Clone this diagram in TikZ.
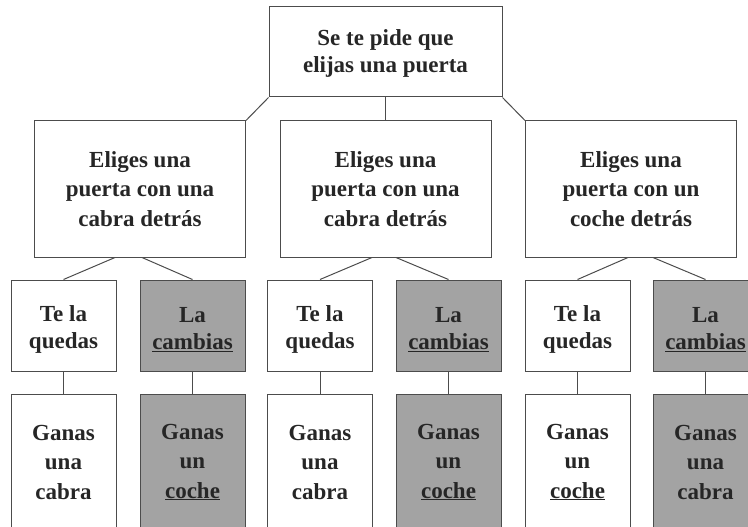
\documentclass[tikz,border=0pt]{standalone}
\usepackage{fontspec}
\setmainfont{Liberation Serif}
\usepackage{xcolor}
\usetikzlibrary{positioning}

\begin{document}
\begin{tikzpicture}[
        x=1pt, y=-1pt,
        every node/.style={font=\bfseries\fontsize{23}{29.5}\selectfont, text=black!85},
        box/.style={rectangle, draw=black!70, line width=1pt, align=center, inner sep=0pt},
        drop/.style={execute at begin node={\rule{0pt}{#1}}},
        ask/.style={box, minimum width=233pt, minimum height=90pt, drop=46pt,
            font=\bfseries\fontsize{23}{27}\selectfont},
        door/.style={box, minimum width=211pt, minimum height=136pt},
        act/.style={box, minimum width=105pt, minimum height=91pt, drop=51pt,
            font=\bfseries\fontsize{23}{27}\selectfont},
        res/.style={box, minimum width=105pt, minimum height=136pt},
        swap/.style={fill=black!36},
        link/.style={draw=black!70, line width=1pt}
    ]
        \clip (0,0) rectangle (748,527);

        \node[ask] (ask) at (385.5,52) {Se te pide que \\ elijas una puerta};

        \node[door] (d1) at (140,189) {Eliges una \\ puerta con una \\ cabra detrás};
        \node[door] (d2) at (385.5,189) {Eliges una \\ puerta con una \\ cabra detrás};
        \node[door] (d3) at (631,189) {Eliges una \\ puerta con un \\ coche detrás};

        \node[act] (k1) at (63.5,325.5) {Te la \\ quedas};
        \node[act, swap] (s1) at (192.5,325.5) {La \\ \underline{cambias}};
        \node[act] (k2) at (320,325.5) {Te la \\ quedas};
        \node[act, swap] (s2) at (448.5,325.5) {La \\ \underline{cambias}};
        \node[act] (k3) at (577.5,325.5) {Te la \\ quedas};
        \node[act, swap] (s3) at (705.5,325.5) {La \\ \underline{cambias}};

        \node[res] (rk1) at (63.5,462) {Ganas \\ una \\ cabra};
        \node[res, swap] (rs1) at (192.5,462) {Ganas \\ un \\ \underline{coche}};
        \node[res] (rk2) at (320,462) {Ganas \\ una \\ cabra};
        \node[res, swap] (rs2) at (448.5,462) {Ganas \\ un \\ \underline{coche}};
        \node[res] (rk3) at (577.5,462) {Ganas \\ un \\ \underline{coche}};
        \node[res, swap] (rs3) at (705.5,462) {Ganas \\ una \\ cabra};

        % first level
        \draw[link] (ask.south west) -- (d1.north east);
        \draw[link] (ask.south) -- (d2.north);
        \draw[link] (ask.south east) -- (d3.north west);

        % keep or swap
        \draw[link] ([xshift=-25pt]d1.south) -- (k1.north);
        \draw[link] ([xshift=2pt]d1.south) -- (s1.north);
        \draw[link] ([xshift=-13.5pt]d2.south) -- (k2.north);
        \draw[link] ([xshift=10.5pt]d2.south) -- (s2.north);
        \draw[link] ([xshift=-3pt]d3.south) -- (k3.north);
        \draw[link] ([xshift=22pt]d3.south) -- (s3.north);

        \draw[link] (k1) -- (rk1);
        \draw[link] (s1) -- (rs1);
        \draw[link] (k2) -- (rk2);
        \draw[link] (s2) -- (rs2);
        \draw[link] (k3) -- (rk3);
        \draw[link] (s3) -- (rs3);

    \end{tikzpicture}
\end{document}
